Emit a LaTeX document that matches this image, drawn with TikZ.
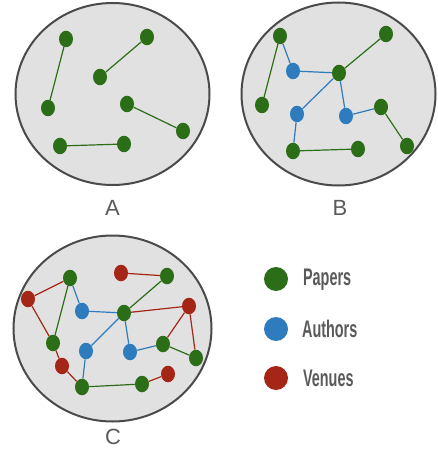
\documentclass[tikz,border=0pt]{standalone}
\usepackage{fontspec}
\setmainfont{Liberation Sans}
\usetikzlibrary{shapes.geometric}
\definecolor{pgreen}{HTML}{2C6E17}
\definecolor{ablue}{HTML}{2E7BBE}
\definecolor{vred}{HTML}{A52616}
\definecolor{bgfill}{HTML}{E1E1E1}
\definecolor{rim}{HTML}{4A4A4A}
\definecolor{txt}{HTML}{5A5A5A}
\tikzset{
  dot/.style={ellipse, minimum width=14pt, minimum height=16.5pt, inner sep=0pt},
  pap/.style={dot, fill=pgreen},
  aut/.style={dot, fill=ablue},
  ven/.style={dot, fill=vred},
  gl/.style={draw=pgreen, line width=1.2pt},
  bl/.style={draw=ablue, line width=1.2pt},
  rl/.style={draw=vred, line width=1.2pt},
  world/.style={fill=bgfill, draw=rim, line width=2pt},
  captxt/.style={text=txt, font=\fontsize{22}{24}\selectfont},
  legdot/.style={circle, minimum size=24pt, inner sep=0pt},
  legtxt/.style={text=txt, anchor=west, inner sep=0pt, font=\fontsize{24}{26}\selectfont\bfseries, xscale=0.6}
}
\begin{document}
\begin{tikzpicture}[x=1pt,y=-1pt]
\useasboundingbox (0,0) rectangle (437,457);
% worlds
\path[world] (112.5,94) ellipse (97pt and 91pt);
\path[world] (338.5,94) ellipse (97pt and 91.5pt);
\path[world] (112.5,328.5) ellipse (99pt and 93pt);
% captions
\node[captxt] (la) at (112.5,208) {A};
\node[captxt] (lb) at (340,208) {B};
\node[captxt] (lc) at (113,437) {C};
% A
\node[pap] (a1) at (66,39) {};
\node[pap] (a2) at (48,108) {};
\node[pap] (a3) at (147,37) {};
\node[pap] (a4) at (100,77) {};
\node[pap] (a5) at (127,104) {};
\node[pap] (a6) at (183,131) {};
\node[pap] (a7) at (60,146) {};
\node[pap] (a8) at (124,144) {};
\draw[gl] (a1) -- (a2);
\draw[gl] (a3) -- (a4);
\draw[gl] (a5) -- (a6);
\draw[gl] (a7) -- (a8);
% B
\node[pap] (b1) at (280,36) {};
\node[pap] (b2) at (386,34) {};
\node[aut] (b3) at (293,71) {};
\node[pap] (b4) at (339,73) {};
\node[pap] (b5) at (262,105) {};
\node[aut] (b6) at (297,114) {};
\node[aut] (b7) at (346,116) {};
\node[pap] (b8) at (381,107) {};
\node[pap] (b9) at (407,146) {};
\node[pap] (b10) at (293,151) {};
\node[pap] (b11) at (358,149) {};
\draw[gl] (b1) -- (b5);
\draw[bl] (b1) -- (b3);
\draw[bl] (b3) -- (b4);
\draw[gl] (b4) -- (b2);
\draw[bl] (b4) -- (b6);
\draw[bl] (b4) -- (b7);
\draw[bl] (b7) -- (b8);
\draw[gl] (b8) -- (b9);
\draw[bl] (b6) -- (b10);
\draw[gl] (b10) -- (b11);
% C
\node[ven] (v1) at (28,299) {};
\node[pap] (p1) at (70,278) {};
\node[ven] (v2) at (121,273) {};
\node[pap] (p2) at (167,276) {};
\node[aut] (c1) at (82,311) {};
\node[pap] (p3) at (124,313) {};
\node[ven] (v3) at (189,306) {};
\node[pap] (p4) at (53,343) {};
\node[aut] (c2) at (86,351) {};
\node[aut] (c3) at (130,352) {};
\node[pap] (p5) at (163,344) {};
\node[pap] (p6) at (196,358) {};
\node[ven] (v4) at (62,366) {};
\node[pap] (p7) at (82,387) {};
\node[pap] (p8) at (142,384) {};
\node[ven] (v5) at (168,374) {};
\draw[rl] (v1) -- (p1);
\draw[rl] (v1) -- (p4);
\draw[gl] (p1) -- (p4);
\draw[bl] (p1) -- (c1);
\draw[rl] (p4) -- (v4);
\draw[rl] (v4) -- (p7);
\draw[bl] (c1) -- (p3);
\draw[rl] (v2) -- (p2);
\draw[gl] (p2) -- (p3);
\draw[rl] (p3) -- (v3);
\draw[bl] (p3) -- (c2);
\draw[bl] (p3) -- (c3);
\draw[bl] (c2) -- (p7);
\draw[gl] (p7) -- (p8);
\draw[rl] (p8) -- (v5);
\draw[bl] (c3) -- (p5);
\draw[rl] (v3) -- (p5);
\draw[rl] (v3) -- (p6);
\draw[gl] (p5) -- (p6);
% legend
\node[legdot, fill=pgreen] (lg1) at (276,279) {};
\node[legdot, fill=ablue] (lg2) at (276,329) {};
\node[legdot, fill=vred] (lg3) at (276,378) {};
\node[legtxt] (lt1) at (303,280) {Papers};
\node[legtxt] (lt2) at (302,329) {Authors};
\node[legtxt] (lt3) at (303,378) {Venues};
\end{tikzpicture}
\end{document}
